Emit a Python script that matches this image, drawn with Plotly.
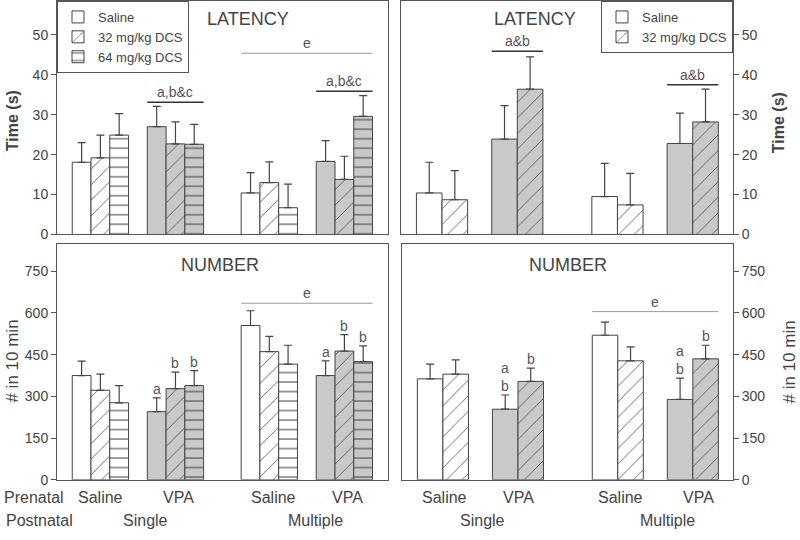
import plotly.graph_objects as go

W, H = 800, 540

# ---------------- data ----------------
prenatal = ["Saline", "VPA", "Saline", "VPA"]
postnatal = ["Single", "Single", "Multiple", "Multiple"]
doses_left = ["Saline", "32 mg/kg DCS", "64 mg/kg DCS"]
doses_right = ["Saline", "32 mg/kg DCS"]

# LATENCY (s), left panel (three doses)
lat_l_saline = [18.1, 27.0, 10.4, 18.3]
lat_l_saline_sem = [4.9, 5.1, 5.1, 5.2]
lat_l_dcs32 = [19.2, 22.7, 13.0, 13.8]
lat_l_dcs32_sem = [5.7, 5.5, 5.2, 5.8]
lat_l_dcs64 = [24.9, 22.6, 6.7, 29.6]
lat_l_dcs64_sem = [5.4, 5.0, 5.9, 5.2]

# LATENCY (s), right panel (two doses)
lat_r_saline = [10.4, 23.9, 9.5, 22.8]
lat_r_saline_sem = [7.7, 8.4, 8.3, 7.6]
lat_r_dcs32 = [8.7, 36.4, 7.4, 28.2]
lat_r_dcs32_sem = [7.3, 8.1, 7.9, 8.2]

# NUMBER (# in 10 min), left panel
num_l_saline = [375, 245, 555, 375]
num_l_saline_sem = [52, 50, 53, 53]
num_l_dcs32 = [322, 328, 461, 463]
num_l_dcs32_sem = [58, 59, 55, 59]
num_l_dcs64 = [277, 339, 416, 425]
num_l_dcs64_sem = [62, 54, 68, 57]

# NUMBER (# in 10 min), right panel
num_r_saline = [363, 254, 520, 289]
num_r_saline_sem = [53, 51, 47, 77]
num_r_dcs32 = [380, 354, 428, 435]
num_r_dcs32_sem = [51, 48, 50, 49]

# significance letters above bars: (group index, dose index, text)
num_l_letters = [(1, 0, "a"), (1, 1, "b"), (1, 2, "b"), (3, 0, "a"), (3, 1, "b"), (3, 2, "b")]
num_r_letters = [(1, 0, "a<br>b"), (1, 1, "b"), (3, 0, "a<br>b"), (3, 1, "b")]

# significance bars: (first group, last group, y, text, dark)
lat_l_sig = [(1, 1, 33.1, "a,b&c", True), (3, 3, 35.9, "a,b&c", True), (2, 3, 45.4, "e", False)]
lat_r_sig = [(1, 1, 45.9, "a&b", True), (3, 3, 37.5, "a&b", True)]
num_l_sig = [(2, 3, 635, "e", False)]
num_r_sig = [(2, 3, 605, "e", False)]

# ---------------- layout constants ----------------
GRAY = "#c9c9c9"
LINE = "#444444"
TXT = "#444444"
FONT = "Liberation Sans, Arial, sans-serif"

pos_left = [0, 1, 2.25, 3.25]
pos_right = [0, 1, 2.33, 3.33]
w_left = 0.25
w_right = 0.34

fills = [GRAY if p == "VPA" else "white" for p in prenatal]

patterns = {
    "Saline": dict(shape=""),
    "32 mg/kg DCS": dict(shape="/", size=11, solidity=0.07),
    "64 mg/kg DCS": dict(shape="-", size=9.5, solidity=0.11),
}


def px_x(x):
    return x / W


def px_y(y):
    return 1 - y / H


fig = go.Figure()


def add_panel(xa, ya, pos, w, series, names, legend, showlegend):
    n = len(series)
    for i, ((vals, sem), name) in enumerate(zip(series, names)):
        off = -n * w / 2 + i * w
        pat = dict(patterns[name])
        if pat["shape"]:
            pat.update(fgcolor="#3a3a3a", fillmode="overlay", fgopacity=1)
        fig.add_trace(go.Bar(
            x=pos, y=vals, width=w, offset=off, name=name,
            xaxis=xa, yaxis=ya, legend=legend, showlegend=showlegend,
            marker=dict(color=fills, line=dict(color=LINE, width=1), pattern=pat),
            error_y=dict(type="data", symmetric=False, array=sem,
                         arrayminus=[0] * len(sem), color=LINE, thickness=1.2, width=4),
            hoverinfo="skip",
        ))


add_panel("x", "y", pos_left, w_left,
          [(lat_l_saline, lat_l_saline_sem), (lat_l_dcs32, lat_l_dcs32_sem), (lat_l_dcs64, lat_l_dcs64_sem)],
          doses_left, "legend", True)
add_panel("x2", "y2", pos_right, w_right,
          [(lat_r_saline, lat_r_saline_sem), (lat_r_dcs32, lat_r_dcs32_sem)],
          doses_right, "legend2", True)
add_panel("x3", "y3", pos_left, w_left,
          [(num_l_saline, num_l_saline_sem), (num_l_dcs32, num_l_dcs32_sem), (num_l_dcs64, num_l_dcs64_sem)],
          doses_left, "legend", False)
add_panel("x4", "y4", pos_right, w_right,
          [(num_r_saline, num_r_saline_sem), (num_r_dcs32, num_r_dcs32_sem)],
          doses_right, "legend2", False)

annotations = []
shapes = []


def add_letters(xref, yref, pos, w, n, letters, series):
    for g, d, t in letters:
        vals, sem = series[d]
        x = pos[g] - n * w / 2 + d * w + w / 2
        annotations.append(dict(x=x, y=vals[g] + sem[g], xref=xref, yref=yref, text=t,
                                showarrow=False, yanchor="bottom", yshift=-1,
                                font=dict(size=14, color="#555555", family=FONT)))


def add_sig(xref, yref, pos, w, n, sigs):
    for g0, g1, y, t, dark in sigs:
        x0 = pos[g0] - n * w / 2
        x1 = pos[g1] + n * w / 2
        shapes.append(dict(type="line", xref=xref, yref=yref, x0=x0, x1=x1, y0=y, y1=y,
                           line=dict(color="#333333" if dark else "#9a9a9a",
                                     width=1.5 if dark else 1)))
        annotations.append(dict(x=(x0 + x1) / 2, y=y, xref=xref, yref=yref, text=t,
                                showarrow=False, yanchor="bottom", yshift=0,
                                font=dict(size=14, color="#555555", family=FONT)))


add_sig("x", "y", pos_left, w_left, 3, lat_l_sig)
add_sig("x2", "y2", pos_right, w_right, 2, lat_r_sig)
add_sig("x3", "y3", pos_left, w_left, 3, num_l_sig)
add_sig("x4", "y4", pos_right, w_right, 2, num_r_sig)

add_letters("x3", "y3", pos_left, w_left, 3, num_l_letters,
            [(num_l_saline, num_l_saline_sem), (num_l_dcs32, num_l_dcs32_sem), (num_l_dcs64, num_l_dcs64_sem)])
add_letters("x4", "y4", pos_right, w_right, 2, num_r_letters,
            [(num_r_saline, num_r_saline_sem), (num_r_dcs32, num_r_dcs32_sem)])


def txt(x, y, t, size=16, angle=0, bold=False, xanchor="center"):
    annotations.append(dict(x=px_x(x), y=px_y(y), xref="paper", yref="paper",
                            text=f"<b>{t}</b>" if bold else t, showarrow=False,
                            textangle=angle, xanchor=xanchor, yanchor="middle",
                            font=dict(size=size, color=TXT, family=FONT)))


# panel titles
txt(248, 19, "LATENCY", 18)
txt(535, 19, "LATENCY", 18)
txt(220, 269, "NUMBER", 18)
txt(568, 269, "NUMBER", 18)

# axis titles
txt(12, 123, "Time (s)", 16, -90, True)
txt(778, 125, "Time (s)", 16, -90, True)
txt(13, 367, "# in 10 min", 17, -90)
txt(790, 368, "# in 10 min", 17, -90)

# group labels below
txt(2, 505, "Prenatal", 16, xanchor="left")
txt(4, 528, "Postnatal", 16, xanchor="left")
for x, t in zip([100, 178, 273, 347, 444, 518, 620, 698], prenatal + prenatal):
    txt(x, 505, t, 16)
for x, t in zip([145, 315, 482, 667], ["Single", "Multiple", "Single", "Multiple"]):
    txt(x, 528, t, 16)

axis_common = dict(showline=True, linecolor="#555555", linewidth=1, mirror=True,
                   showgrid=False, zeroline=False)
xcommon = dict(axis_common, showticklabels=False, ticks="")
ycommon = dict(axis_common, ticks="outside", ticklen=5, tickcolor="#555555",
               tickfont=dict(size=14, color=TXT, family=FONT))

left_rng = [-0.578, 3.831]
right_rng = [-0.545, 3.865]

legend_common = dict(yanchor="top", bordercolor="#555555", borderwidth=1, bgcolor="white",
                     font=dict(size=13, color=TXT, family=FONT), tracegroupgap=0,
                     itemclick=False, itemdoubleclick=False)

fig.update_layout(
    width=W, height=H, margin=dict(l=0, r=0, t=0, b=0),
    paper_bgcolor="white", plot_bgcolor="white",
    barmode="overlay", showlegend=True,
    font=dict(family=FONT, color=TXT),
    xaxis=dict(xcommon, domain=[px_x(57), px_x(388)], range=left_rng, anchor="y"),
    yaxis=dict(ycommon, domain=[px_y(238), px_y(1)], range=[0, 58.5], anchor="x",
               tickvals=[0, 10, 20, 30, 40, 50]),
    xaxis2=dict(xcommon, domain=[px_x(401), px_x(733)], range=right_rng, anchor="y2"),
    yaxis2=dict(ycommon, domain=[px_y(238), px_y(1)], range=[0, 58.5], side="right",
                anchor="x2", tickvals=[0, 10, 20, 30, 40, 50]),
    xaxis3=dict(xcommon, domain=[px_x(57), px_x(388)], range=left_rng, anchor="y3"),
    yaxis3=dict(ycommon, domain=[px_y(487), px_y(248)], range=[0, 847], anchor="x3",
                tickvals=[0, 150, 300, 450, 600, 750]),
    xaxis4=dict(xcommon, domain=[px_x(402), px_x(733)], range=right_rng, anchor="y4"),
    yaxis4=dict(ycommon, domain=[px_y(487), px_y(248)], range=[0, 847], side="right",
                anchor="x4", tickvals=[0, 150, 300, 450, 600, 750]),
    legend=dict(legend_common, x=px_x(57), y=px_y(1), xanchor="left"),
    legend2=dict(legend_common, x=px_x(733), y=px_y(1), xanchor="right"),
    annotations=annotations, shapes=shapes,
)

fig.write_html("out.html", config={"displayModeBar": False, "staticPlot": True},
               post_script="document.body.style.margin='0';document.body.style.padding='0';")
